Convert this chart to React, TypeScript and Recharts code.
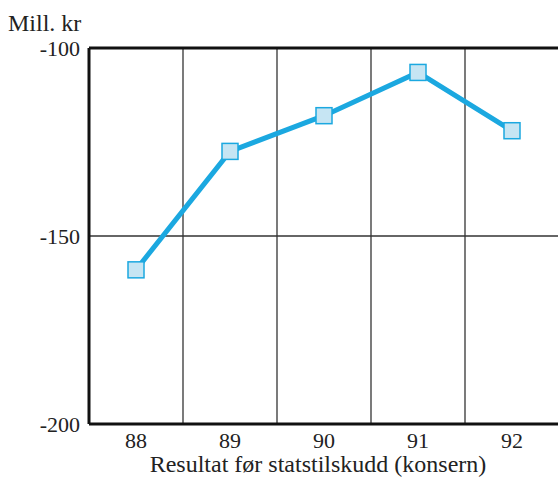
import React from 'react';
import { LineChart, Line, XAxis, YAxis, CartesianGrid, ReferenceLine } from 'recharts';

const categories = ['88', '89', '90', '91', '92'];
const values = [-159, -127.5, -118, -106.5, -122];
const yTicks = [-200, -150, -100];
const unitLabel = 'Mill. kr';
const xTitle = 'Resultat før statstilskudd (konsern)';

const data = categories.map((c, i) => ({ x: i + 0.5, label: c, v: values[i] }));
const xTicks = categories.map((_, i) => i + 0.5);
const boundaries = categories.slice(1).map((_, i) => i + 1);

const FONT = '"Times New Roman", "Liberation Serif", serif';
const LINE = '#1ba8e0';

const SquareDot = (props: any) => {
  const { cx, cy } = props;
  if (cx == null || cy == null) return null;
  return <rect x={cx - 8} y={cy - 8} width={16} height={16} fill="#c6e5f3" stroke={LINE} strokeWidth={1.5} />;
};

export default function App() {
  return (
    <div style={{ position: 'absolute', left: 0, top: 0, width: 558, height: 479, overflow: 'hidden', background: '#fff' }}>
      <div style={{ position: 'absolute', left: 8, top: 9, fontFamily: FONT, fontSize: 24, color: '#222', lineHeight: '28px' }}>
        {unitLabel}
      </div>
      <LineChart width={562} height={479} data={data} margin={{ top: 48, right: 3, bottom: 0, left: 0 }}>
        <CartesianGrid vertical={false} stroke="#333" strokeWidth={1.3} />
        {boundaries.map((b) => (
          <ReferenceLine key={b} x={b} stroke="#333" strokeWidth={1.3} />
        ))}
        <ReferenceLine y={-100} stroke="#111" strokeWidth={3} />
        <XAxis
          type="number"
          dataKey="x"
          domain={[0, categories.length]}
          ticks={xTicks}
          tickFormatter={(v: number) => categories[Math.floor(v)]}
          height={55}
          tickLine={false}
          tickSize={0}
          tickMargin={8}
          axisLine={{ stroke: '#111', strokeWidth: 3 }}
          tick={{ fontFamily: FONT, fontSize: 22, fill: '#222' }}
          label={{ value: xTitle, position: 'insideBottom', offset: 7, dx: -6, fontFamily: FONT, fontSize: 24, fill: '#222' }}
        />
        <YAxis
          type="number"
          domain={[-200, -100]}
          ticks={yTicks}
          width={89}
          tickLine={false}
          tickSize={0}
          tickMargin={9}
          axisLine={{ stroke: '#111', strokeWidth: 3 }}
          tick={{ fontFamily: FONT, fontSize: 22, fill: '#222' }}
        />
        <Line
          dataKey="v"
          stroke={LINE}
          strokeWidth={5}
          dot={<SquareDot />}
          activeDot={false}
          isAnimationActive={false}
        />
      </LineChart>
    </div>
  );
}
